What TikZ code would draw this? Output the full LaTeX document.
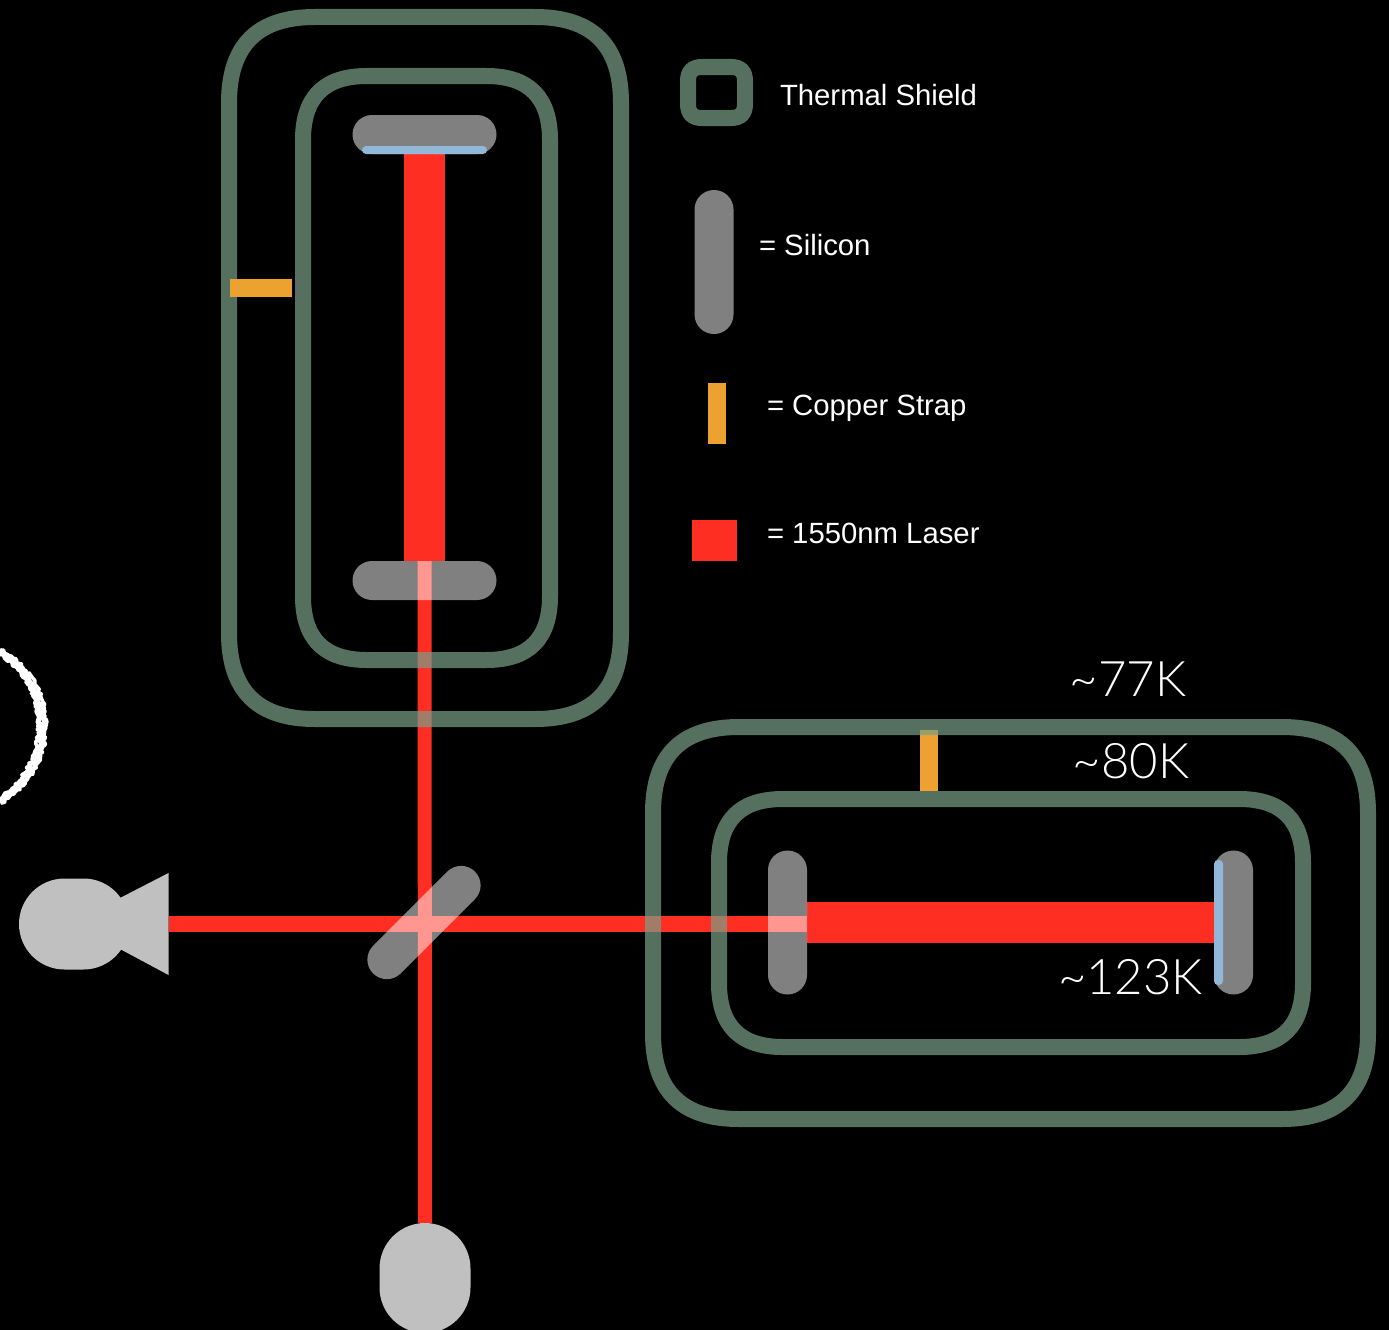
\documentclass[tikz,border=0pt]{standalone}
\usepackage{fontspec}
\setmainfont{Liberation Sans}
\newfontfamily\lightfont{Lato Light}
\usetikzlibrary{calc, backgrounds, decorations.pathmorphing}
\definecolor{shieldgreen}{RGB}{120,158,135}
\definecolor{laserred}{RGB}{255,46,34}
\definecolor{strapyellow}{RGB}{237,161,48}
\definecolor{coatblue}{RGB}{146,184,217}
\definecolor{detectorgrey}{RGB}{192,192,192}
\tikzset{
  every node/.style={inner sep=0pt, outer sep=0pt},
  shieldline/.style={draw=shieldgreen, draw opacity=.71, line width=16pt},
  silicon/.style={fill=white, fill opacity=.5, rounded corners=19.5pt, minimum width=144pt, minimum height=39pt},
  coating/.style={fill=coatblue, rounded corners=4pt},
  strap/.style={fill=strapyellow},
  detector/.style={fill=detectorgrey, rounded corners=45.5pt},
  legendtext/.style={text=white, font=\fontsize{29.3}{32}\selectfont, anchor=base west},
  templabel/.style={text=white, font=\lightfont\fontsize{49}{52}\selectfont},
  chalk/.style={white, line width=3.6pt, line join=round, decorate, decoration={random steps, segment length=1.8pt, amplitude=1.5pt}}
}
% #1 node, #2 corner length, soft corners round the node's box
\newcommand{\shieldloop}[2]{%
  \pgfmathsetmacro{\cornerin}{.33*#2}
  \draw[shieldline]
    ($(#1.north west)+(#2,0)$) -- ($(#1.north east)+(-#2,0)$)
    .. controls ($(#1.north east)+(-\cornerin,0)$) and ($(#1.north east)+(0,\cornerin)$) .. ($(#1.north east)+(0,#2)$)
    -- ($(#1.south east)+(0,-#2)$)
    .. controls ($(#1.south east)+(0,-\cornerin)$) and ($(#1.south east)+(-\cornerin,0)$) .. ($(#1.south east)+(-#2,0)$)
    -- ($(#1.south west)+(#2,0)$)
    .. controls ($(#1.south west)+(\cornerin,0)$) and ($(#1.south west)+(0,-\cornerin)$) .. ($(#1.south west)+(0,-#2)$)
    -- ($(#1.north west)+(0,#2)$)
    .. controls ($(#1.north west)+(0,\cornerin)$) and ($(#1.north west)+(\cornerin,0)$) .. cycle;
}
\begin{document}
\begin{tikzpicture}[x=1pt, y=-1pt]
    \useasboundingbox (0,0) rectangle (1389,1330);
    % thermal shields
    \node[minimum width=392pt, minimum height=702pt] (outerTop) at (425,368) {};
    \node[minimum width=247pt, minimum height=584pt] (innerTop) at (426.5,368) {};
    \node[minimum width=715pt, minimum height=392pt] (outerRight) at (1010.5,923) {};
    \node[minimum width=584pt, minimum height=248pt] (innerRight) at (1011,923) {};
    \shieldloop{outerTop}{86}
    \shieldloop{innerTop}{64}
    \shieldloop{outerRight}{86}
    \shieldloop{innerRight}{64}
    % cavity mirrors
    \node[silicon] (mirrorTop) at (424.5,134.5) {};
    \node[silicon] (mirrorBottom) at (424.5,580.5) {};
    \node[silicon, rotate=90] (mirrorLeft) at (787.5,922.5) {};
    \node[silicon, rotate=90] (mirrorRight) at (1233.5,922.5) {};
    \node[silicon, rotate=45] (splitter) at (424,922.5) {};
    \node[coating, minimum width=125pt, minimum height=8pt] (coatTop) at (424.5,150) {};
    \node[coating, minimum width=9pt, minimum height=125pt] (coatRight) at (1218.5,922.5) {};
    % copper straps
    \node[strap, minimum width=62pt, minimum height=18pt] (strapTop) at (261,288) {};
    % detectors
    \node[detector, minimum width=91pt, minimum height=110pt] (photoBottom) at (425,1278) {};
    \node[detector, minimum width=110pt, minimum height=91pt] (camLeft) at (74,924) {};
    \coordinate (lensTip) at (168.5,924);
    \begin{pgfonlayer}{background}
      \fill[black] (0,0) rectangle (1389,1330);
      \node[strap, minimum width=18pt, minimum height=61pt] (strapRight) at (929,760.5) {};
      \draw[laserred, line width=41pt] (coatTop.south) -- (mirrorBottom.north);
      \draw[laserred, line width=41pt] (mirrorLeft.south) -- (coatRight.west);
      \draw[laserred, line width=14pt] (mirrorBottom.north) -- (photoBottom.north);
      \draw[laserred, line width=16pt] (lensTip) -- (lensTip -| mirrorLeft.south);
    \end{pgfonlayer}
    \fill[detectorgrey] (120,898) -- (168.5,873) -- (168.5,975) -- (120,949) -- cycle;
    % chalk ring
    \foreach \off in {-3.6,-1.2,1.2,3.6}
      \draw[chalk, xshift=\off pt]
        (-3,650) .. controls (28,668) and (42,695) .. (42,727) .. controls (42,760) and (25,785) .. (-3,803);
    % legend
    \node[minimum width=57pt, minimum height=51pt] (legendShield) at (716.5,92.5) {};
    \shieldloop{legendShield}{14}
    \node[silicon, rotate=90] (legendSilicon) at (714,262) {};
    \node[strap, minimum width=18pt, minimum height=61pt] (legendStrap) at (717,413.5) {};
    \node[fill=laserred, minimum width=45pt, minimum height=41pt] (legendLaser) at (714.5,540.5) {};
    \node[legendtext] (labelShield) at (780,105) {Thermal Shield};
    \node[legendtext] (labelSilicon) at (759,255) {= Silicon};
    \node[legendtext] (labelStrap) at (767,415) {= Copper Strap};
    \node[legendtext] (labelLaser) at (767,543) {= 1550nm Laser};
    % temperatures
    \node[templabel] (tempOuter) at (1128,679) {\char`\~77K};
    \node[templabel] (tempInner) at (1131,761) {\char`\~80K};
    \node[templabel] (tempMirror) at (1130.5,977) {\char`\~123K};
\end{tikzpicture}
\end{document}
